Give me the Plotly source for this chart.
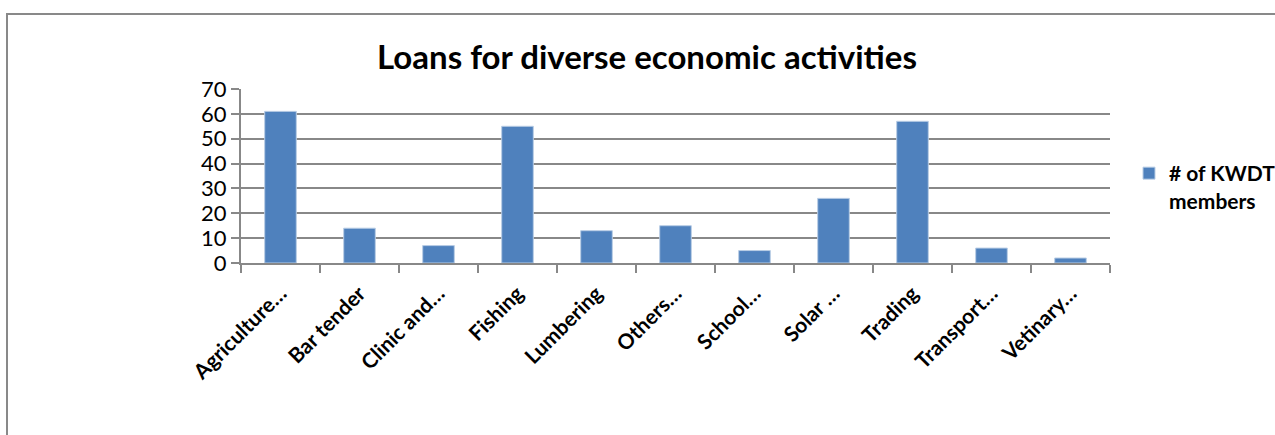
import plotly.graph_objects as go

categories = ["Agriculture…", "Bar tender", "Clinic and…", "Fishing", "Lumbering",
              "Others…", "School…", "Solar …", "Trading", "Transport…", "Vetinary…"]
members = [61, 14, 7, 55, 13, 15, 5, 26, 57, 6, 2]
series_name = "# of KWDT<br>members"
title_text = "Loans for diverse economic activities"

W, H = 1275, 435
L, R, T, B = 241, 165, 89, 172
pw, ph = W - L - R, H - T - B

def px_x(p):
    return (p - L) / pw

def px_y(p):
    return (H - B - p) / ph

fig = go.Figure()
fig.add_trace(go.Bar(x=categories, y=members,
                     name="<b>" + series_name.replace("<br>", "</b><br><b>") + "</b>",
                     marker=dict(color="#4F81BD", line=dict(color="#B9CDE5", width=1))))

font = "Lato, 'Open Sans', sans-serif"
grid = "#888888"

fig.update_layout(
    width=W, height=H,
    margin=dict(l=L, r=R, t=T, b=B),
    paper_bgcolor="white", plot_bgcolor="white",
    bargap=0.6,
    showlegend=True,
    title=dict(text="<b>" + title_text + "</b>", x=647 / W, xanchor="center",
               y=1 - 57 / H, yanchor="middle", yref="container",
               font=dict(family=font, size=33, color="black")),
    legend=dict(x=1129 / W, xref="container", y=1 - 153 / H, yref="container",
                yanchor="top", xanchor="left", valign="top",
                font=dict(family=font, size=21, color="black"),
                itemwidth=30, bgcolor="rgba(0,0,0,0)", tracegroupgap=0),
    xaxis=dict(showline=True, linecolor=grid, linewidth=2, ticks="outside",
               tickson="boundaries", ticklen=8, tickcolor=grid, tickwidth=2,
               tickangle=-45, showgrid=False, ticklabelstandoff=8,
               tickfont=dict(family=font, size=21, color="black", weight="bold")),
    yaxis=dict(range=[0, 70], dtick=10, showline=True, linecolor=grid, linewidth=2,
               ticks="outside", ticklen=8, tickcolor=grid, tickwidth=2,
               showgrid=True, gridcolor=grid, gridwidth=2, zeroline=False,
               tickfont=dict(family=font, size=22, color="black")),
    font=dict(family=font, color="black"),
)

fig.add_shape(type="rect", xref="paper", yref="paper",
              x0=px_x(7), x1=px_x(1300), y0=px_y(460), y1=px_y(14),
              line=dict(color="#898989", width=2), fillcolor="rgba(0,0,0,0)", layer="below")

fig.write_html("out.html")
